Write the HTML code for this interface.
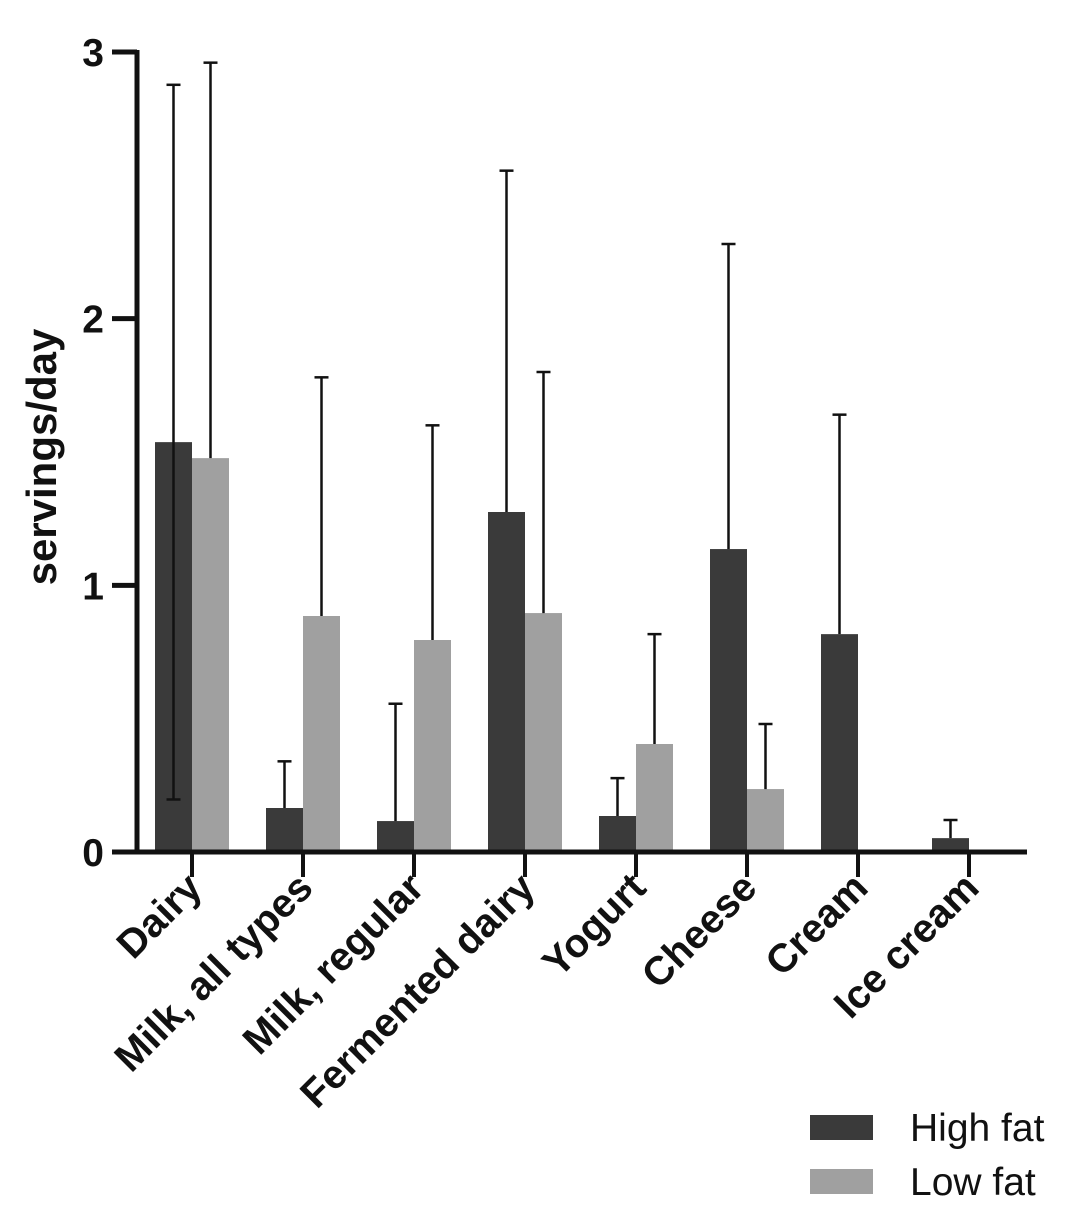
<!DOCTYPE html>
<html><head><meta charset="utf-8"><style>
html,body{margin:0;padding:0;background:#fff;}
svg{display:block;font-family:"Liberation Sans",Arial,sans-serif;}
</style></head><body>
<svg id="chart" width="1080" height="1211" viewBox="0 0 1080 1211">
<g id="plot"></g>
<text x="56" y="457" transform="rotate(-90 56 457)" text-anchor="middle" font-size="42" font-weight="bold" fill="#111">servings/day</text>
<g>
<g>
<rect x="810" y="1115" width="63" height="25" fill="#3a3a3a"/>
<text x="910" y="1141" font-size="39" fill="#111">High fat</text></g>
<g>
<rect x="810" y="1169" width="63" height="25" fill="#a0a0a0"/>
<text x="910" y="1195" font-size="39" fill="#111">Low fat</text></g>
</g>
</svg>
<script>
const categories = ["Dairy","Milk, all types","Milk, regular","Fermented dairy","Yogurt","Cheese","Cream","Ice cream"];
const highFat = [1.537,0.165,0.116,1.275,0.135,1.136,0.817,0.052];
const highFatErr = [1.34,0.175,0.44,1.28,0.142,1.144,0.823,0.068];
const lowFat = [1.477,0.885,0.795,0.896,0.405,0.236,0,0];
const lowFatErr = [1.483,0.895,0.805,0.904,0.412,0.244,0,0];
const yTicks = [0,1,2,3];

const NS="http://www.w3.org/2000/svg";
const plot=document.getElementById('plot');
const y0=852, yTop=52, yMax=3;
const yScale=v=>y0-(v/yMax)*(y0-yTop);
const bandStart=137.5, band=111, barW=37;
const xCenter=i=>bandStart+band*i+band/2-1;
function mk(tag,attrs){const e=document.createElementNS(NS,tag);for(const k in attrs)e.setAttribute(k,attrs[k]);plot.appendChild(e);return e;}

function errBar(cx,v,e,name,both){
  const g=mk('g',{});
  
  
  const top=yScale(v+e), bot=both?yScale(Math.max(v-e,0)):yScale(v);
  const l=document.createElementNS(NS,'line');
  l.setAttribute('x1',cx);l.setAttribute('x2',cx);l.setAttribute('y1',top);l.setAttribute('y2',bot);
  l.setAttribute('stroke','#111');l.setAttribute('stroke-width','2.5');
  g.appendChild(l);
  const c=document.createElementNS(NS,'line');
  c.setAttribute('x1',cx-7);c.setAttribute('x2',cx+7);c.setAttribute('y1',top);c.setAttribute('y2',top);
  c.setAttribute('stroke','#111');c.setAttribute('stroke-width','2.5');
  g.appendChild(c);
  if(both){const c2=c.cloneNode();c2.setAttribute('y1',bot);c2.setAttribute('y2',bot);g.appendChild(c2);}
}

categories.forEach((cat,i)=>{
  const c=xCenter(i);
  if(highFat[i]>0){
    const r=mk('rect',{x:c-barW,y:yScale(highFat[i]),width:barW,height:y0-yScale(highFat[i]),fill:'#3a3a3a'});
    
    
  }
  if(lowFat[i]>0){
    const r=mk('rect',{x:c,y:yScale(lowFat[i]),width:barW,height:y0-yScale(lowFat[i]),fill:'#a0a0a0'});
    
    
  }
  if(highFatErr[i]>0) errBar(c-barW/2,highFat[i],highFatErr[i],'error-bar-high-fat-'+i,i===0);
  if(lowFatErr[i]>0) errBar(c+barW/2,lowFat[i],lowFatErr[i],'error-bar-low-fat-'+i,false);
  const xt=mk('line',{x1:c,x2:c,y1:y0,y2:877,stroke:'#111','stroke-width':'4'});
  
  
  const tx=c+12, ty=890;
  const t=mk('text',{x:tx,y:ty,transform:`rotate(-45 ${tx} ${ty})`,'text-anchor':'end','font-size':'40','font-weight':'bold',fill:'#111'});
  t.textContent=cat;
  
  
});

const xa=mk('line',{x1:112,x2:1027,y1:y0,y2:y0,stroke:'#111','stroke-width':'5'});


const ya=mk('line',{x1:137,x2:137,y1:yTop-2,y2:y0+2,stroke:'#111','stroke-width':'5'});


yTicks.forEach(v=>{
  const tk=mk('line',{x1:112,x2:137,y1:yScale(v),y2:yScale(v),stroke:'#111','stroke-width':'5'});
  
  
  const t=mk('text',{x:104,y:yScale(v)+14,'text-anchor':'end','font-size':'39','font-weight':'bold',fill:'#111'});
  t.textContent=v;
  
  
});
</script>
</body></html>
